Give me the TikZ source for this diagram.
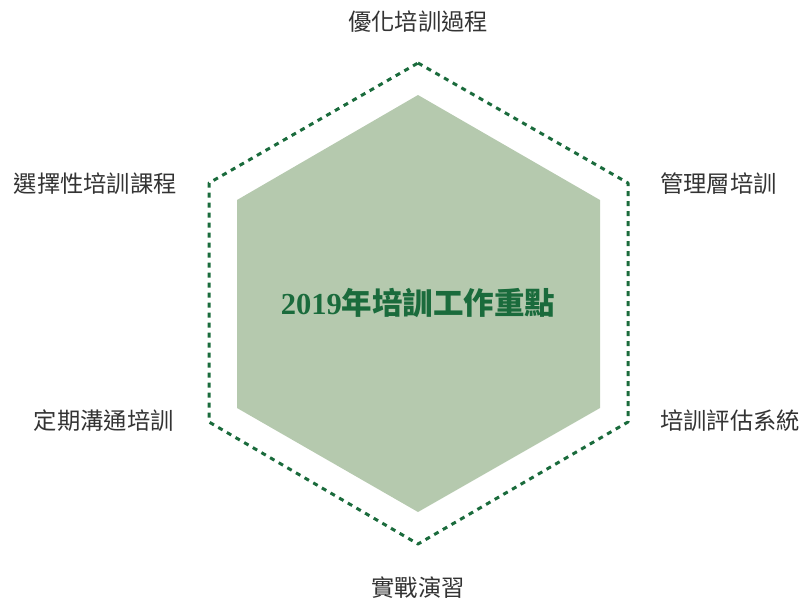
\documentclass[tikz,border=0pt]{standalone}
\usepackage{fontspec}
\newfontfamily\cjk{Noto Sans CJK TC}
\newfontfamily\serifd{Liberation Serif}
\definecolor{dgreen}{HTML}{1A6B3C}
\definecolor{lgreen}{HTML}{B5C9AE}
\definecolor{lbl}{HTML}{333333}
\tikzset{
  lab/.style={font=\cjk\fontsize{23.3}{25}\selectfont, text=lbl, inner sep=0pt},
  outerhex/.style={draw=dgreen, line width=3pt, dash pattern=on 5pt off 5pt, line join=round},
}
\begin{document}
\begin{tikzpicture}[x=1pt,y=-1pt]
\useasboundingbox (0,0) rectangle (801,603);
\coordinate (o1) at (418,63);
\coordinate (o2) at (628,183);
\coordinate (o3) at (628,422);
\coordinate (o4) at (418,544);
\coordinate (o5) at (209,422);
\coordinate (o6) at (209,183);
\fill[lgreen] (418,95) -- (600,200) -- (600,408) -- (418,512) -- (237,408) -- (237,200) -- cycle;
\draw[outerhex] (o1) -- (o2) -- (o3) -- (o4) -- (o5) -- (o6) -- cycle;
\node[font=\fontsize{30.5}{32}\selectfont\bfseries, text=dgreen, inner sep=0pt] (c) at (418,303) {{\serifd 2019}{\cjk 年培訓工作重點}};
\node[lab] (t1) at (418,22) {優化培訓過程};
\node[lab, anchor=west] (t2) at (660,184) {管理層培訓};
\node[lab, anchor=west] (t3) at (660,421) {培訓評估系統};
\node[lab] (t4) at (418,588) {實戰演習};
\node[lab, anchor=east] (t5) at (174,421) {定期溝通培訓};
\node[lab, anchor=east] (t6) at (177,184) {選擇性培訓課程};
\end{tikzpicture}
\end{document}
